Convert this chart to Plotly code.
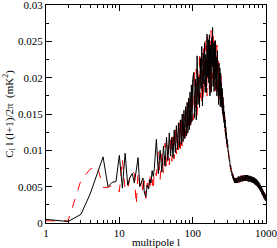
import plotly.graph_objects as go

# multipole grid
ell = (list(range(1, 31)) + list(range(32, 101, 2)) + list(range(103, 302, 3))
       + list(range(305, 401, 5)) + list(range(410, 1001, 10)))

black_vals = [
    # 1..30
    0.0005, 0.0002, 0.0012, 0.0040, 0.0068, 0.0091, 0.0050, 0.0056, 0.0057, 0.0093,
    0.0048, 0.0096, 0.0052, 0.0063, 0.0068, 0.0055, 0.0072, 0.0090, 0.0050, 0.0058,
    0.0062, 0.0041, 0.0036, 0.0052, 0.0047, 0.0060, 0.0055, 0.0072, 0.0064, 0.0075,
    # 32..100 step 2
    0.0115, 0.0068, 0.0100, 0.0070, 0.0106, 0.0078, 0.0118, 0.0086, 0.0124, 0.0092,
    0.0118, 0.0090, 0.0128, 0.0097, 0.0134, 0.0101, 0.0138, 0.0104, 0.0142, 0.0108,
    0.0150, 0.0112, 0.0155, 0.0116, 0.0160, 0.0120, 0.0166, 0.0124, 0.0172, 0.0128,
    0.0180, 0.0135, 0.0190, 0.0140, 0.0197,
    # 103..301 step 3
    0.0207, 0.0145, 0.0198, 0.0142, 0.0230, 0.0163, 0.0201, 0.0159, 0.0227, 0.0185,
    0.0243, 0.0161, 0.0234, 0.0191, 0.0248, 0.0180, 0.0232, 0.0179, 0.0260, 0.0201,
    0.0252, 0.0193, 0.0259, 0.0175, 0.0245, 0.0180, 0.0255, 0.0215, 0.0269, 0.0188,
    0.0247, 0.0181, 0.0250, 0.0198, 0.0251, 0.0184, 0.0227, 0.0175, 0.0237, 0.0179,
    0.0221, 0.0163, 0.0220, 0.0176, 0.0213, 0.0160, 0.0206, 0.0162, 0.0193, 0.0159,
    0.0185, 0.0151, 0.0173, 0.0145, 0.0162, 0.0138, 0.0153, 0.0131, 0.0142, 0.0122,
    0.0132, 0.0116, 0.0124, 0.0109, 0.0115, 0.0103, 0.0108,
    # 305..400 step 5
    0.0097, 0.0097, 0.0086, 0.0087, 0.0077, 0.0079, 0.0070, 0.0072, 0.0065, 0.0068,
    0.0061, 0.0065, 0.0058, 0.0062, 0.0055, 0.0061, 0.0055, 0.0062, 0.0055, 0.0062,
    # 410..1000 step 10
    0.0055, 0.0064, 0.0056, 0.0064, 0.0057, 0.0065, 0.0057, 0.0065, 0.0058, 0.0066,
    0.0058, 0.0066, 0.0058, 0.0066, 0.0058, 0.0066, 0.0057, 0.0065, 0.0057, 0.0065,
    0.0057, 0.0064, 0.0056, 0.0064, 0.0056, 0.0063, 0.0055, 0.0063, 0.0054, 0.0062,
    0.0053, 0.0061, 0.0052, 0.0060, 0.0051, 0.0059, 0.0050, 0.0057, 0.0048, 0.0056,
    0.0047, 0.0054, 0.0045, 0.0052, 0.0043, 0.0050, 0.0041, 0.0048, 0.0039, 0.0046,
    0.0037, 0.0044, 0.0035, 0.0042, 0.0034, 0.0041, 0.0032, 0.0039, 0.0031, 0.0034,
]

red_vals = [
    # 1..30
    0.0003, 0.0003, 0.0059, 0.0074, 0.0078, 0.0049, 0.0049, 0.0052, 0.0047, 0.0043,
    0.0088, 0.0045, 0.0046, 0.0065, 0.0072, 0.0068, 0.0025, 0.0070, 0.0052, 0.0062,
    0.0040, 0.0058, 0.0034, 0.0055, 0.0042, 0.0068, 0.0048, 0.0060, 0.0045, 0.0072,
    # 32..100 step 2
    0.0065, 0.0098, 0.0060, 0.0095, 0.0068, 0.0110, 0.0075, 0.0108, 0.0080, 0.0120,
    0.0085, 0.0125, 0.0088, 0.0130, 0.0095, 0.0128, 0.0098, 0.0140, 0.0102, 0.0145,
    0.0106, 0.0150, 0.0112, 0.0148, 0.0118, 0.0158, 0.0122, 0.0165, 0.0128, 0.0170,
    0.0132, 0.0178, 0.0138, 0.0186, 0.0145,
    # 103..301 step 3
    0.0142, 0.0210, 0.0158, 0.0212, 0.0145, 0.0213, 0.0161, 0.0234, 0.0172, 0.0230,
    0.0168, 0.0226, 0.0169, 0.0246, 0.0188, 0.0255, 0.0182, 0.0244, 0.0175, 0.0256,
    0.0202, 0.0253, 0.0184, 0.0250, 0.0195, 0.0265, 0.0180, 0.0260, 0.0199, 0.0263,
    0.0187, 0.0251, 0.0190, 0.0243, 0.0176, 0.0244, 0.0187, 0.0245, 0.0177, 0.0224,
    0.0171, 0.0223, 0.0170, 0.0211, 0.0173, 0.0210, 0.0166, 0.0202, 0.0163, 0.0189,
    0.0155, 0.0178, 0.0149, 0.0169, 0.0142, 0.0158, 0.0133, 0.0147, 0.0126, 0.0138,
    0.0120, 0.0128, 0.0112, 0.0119, 0.0105, 0.0111, 0.0100,
    # 305..400 step 5
    0.0102, 0.0091, 0.0091, 0.0081, 0.0083, 0.0073, 0.0076, 0.0067, 0.0071, 0.0063,
    0.0067, 0.0059, 0.0064, 0.0056, 0.0061, 0.0054, 0.0061, 0.0055, 0.0062, 0.0056,
    # 410..1000 step 10
    0.0063, 0.0056, 0.0064, 0.0056, 0.0065, 0.0057, 0.0065, 0.0057, 0.0066, 0.0058,
    0.0066, 0.0058, 0.0066, 0.0058, 0.0066, 0.0058, 0.0065, 0.0057, 0.0065, 0.0057,
    0.0065, 0.0056, 0.0064, 0.0056, 0.0064, 0.0055, 0.0063, 0.0055, 0.0062, 0.0054,
    0.0061, 0.0053, 0.0060, 0.0052, 0.0059, 0.0051, 0.0058, 0.0049, 0.0056, 0.0048,
    0.0055, 0.0046, 0.0053, 0.0044, 0.0051, 0.0042, 0.0049, 0.0040, 0.0047, 0.0038,
    0.0045, 0.0036, 0.0042, 0.0034, 0.0042, 0.0033, 0.0040, 0.0031, 0.0038, 0.0033,
]

x_tick_vals = [1, 10, 100, 1000]
x_tick_text = ["1", "10", "100", "1000"]
x_minor_vals = [m * d for d in (1, 10, 100) for m in range(2, 10)]
y_tick_vals = [0, 0.005, 0.01, 0.015, 0.02, 0.025, 0.03]
y_tick_text = ["0", "0.005", "0.01", "0.015", "0.02", "0.025", "0.03"]

fig = go.Figure()
fig.add_trace(go.Scatter(x=ell, y=red_vals, mode="lines",
                         line=dict(color="red", width=1, dash="dash"), showlegend=False))
fig.add_trace(go.Scatter(x=ell, y=black_vals, mode="lines",
                         line=dict(color="black", width=1), showlegend=False))

font = dict(family="Liberation Serif, Times New Roman, serif", size=11, color="black")

fig.update_layout(
    width=277, height=248, autosize=False,
    margin=dict(l=46, r=11, t=5, b=25, autoexpand=False),
    paper_bgcolor="white", plot_bgcolor="white",
    font=font,
    xaxis=dict(type="log", range=[0, 3], tickvals=x_tick_vals, ticktext=x_tick_text,
               ticks="inside", ticklen=6, tickwidth=1, tickcolor="black",
               showline=True, linecolor="black", linewidth=1, mirror="allticks",
               showgrid=False, zeroline=False, automargin=False,
               ticklabeloverflow="allow",
               minor=dict(tickvals=x_minor_vals, ticks="inside", ticklen=3,
                          tickcolor="black", showgrid=False),
               title=dict(text="multipole l", font=font, standoff=0),
               tickfont=font),
    yaxis=dict(range=[0, 0.03], tickvals=y_tick_vals, ticktext=y_tick_text,
               ticks="inside", ticklen=6, tickwidth=1, tickcolor="black",
               showline=True, linecolor="black", linewidth=1, mirror="allticks",
               showgrid=False, zeroline=False, automargin=False,
               ticklabeloverflow="allow",
               minor=dict(dtick=0.0025, ticks="inside", ticklen=3,
                          tickcolor="black", showgrid=False),
               title=dict(text="C<sub>l</sub> l (l+1)/2π  (mK<sup>2</sup>)", font=font, standoff=2),
               tickfont=font),
)

fig.write_html("out.html", config={"displayModeBar": False},
               post_script="document.body.style.margin='0';document.body.style.padding='0';")
